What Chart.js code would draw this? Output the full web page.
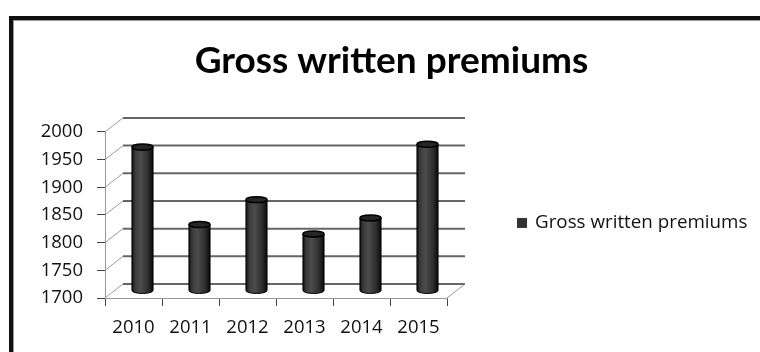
<!DOCTYPE html>
<html>
<head>
<meta charset="utf-8">
<script src="https://cdn.jsdelivr.net/npm/chart.js@4.4.1/dist/chart.umd.min.js"></script>
<style>
  html, body { margin: 0; padding: 0; background: #fff; overflow: hidden; }
  #frame { position: absolute; left: 9px; top: 16px; width: 800px; height: 400px;
           border-left: 4px solid #111; border-top: 4px solid #111; box-shadow: inset 1px 1px 0 #999; }
  #wrap { position: absolute; left: 0; top: 0; width: 760px; height: 352px; }
</style>
</head>
<body>
<div id="frame"></div>
<div id="wrap"><canvas id="premiumsChart" width="760" height="352"></canvas></div>
<script>
const years = ['2010', '2011', '2012', '2013', '2014', '2015'];
const premiums = [1960, 1820, 1865, 1803, 1832, 1965];
const yTickValues = [1700, 1750, 1800, 1850, 1900, 1950, 2000];

// depth of the fake 3d box (back wall offset)
const DX = 18;
const DY = -14;

const wall3d = {
    id: 'wall3d',
    beforeDatasetsDraw(chart) {
        const { ctx, scales: { x, y } } = chart;
        ctx.save();
        y.ticks.forEach(t => {
            const py = y.getPixelForValue(t.value);
            ctx.strokeStyle = '#9a9a9a';
            ctx.lineWidth = 1;
            ctx.beginPath();
            ctx.moveTo(x.left, py);
            ctx.lineTo(x.left + DX, py + DY);
            ctx.stroke();
            ctx.strokeStyle = '#666';
            ctx.lineWidth = 2;
            ctx.beginPath();
            ctx.moveTo(x.left + DX, py + DY);
            ctx.lineTo(x.right + DX, py + DY);
            ctx.stroke();
        });
        ctx.strokeStyle = '#9a9a9a';
        ctx.lineWidth = 1;
        ctx.beginPath();
        ctx.moveTo(x.right, y.bottom);
        ctx.lineTo(x.right + DX, y.bottom + DY);
        ctx.stroke();
        ctx.restore();
    },
    beforeDatasetDraw() {
        return false; // bars are drawn as cylinders below
    },
    afterDatasetsDraw(chart) {
        const ctx = chart.ctx;
        ctx.save();
        chart.getDatasetMeta(0).data.forEach(bar => {
            const p = bar.getProps(['x', 'y', 'base', 'width'], true);
            const cx = p.x + DX / 2;
            const top = p.y + DY / 2;
            const bottom = p.base + DY / 2;
            const rx = p.width / 2;
            const ry = p.width * 0.14;
            const left = cx - rx, right = cx + rx;

            const g = ctx.createLinearGradient(left, 0, right, 0);
            g.addColorStop(0, '#121212');
            g.addColorStop(0.15, '#3a3a3a');
            g.addColorStop(0.4, '#4c4c4c');
            g.addColorStop(0.75, '#303030');
            g.addColorStop(1, '#0a0a0a');

            ctx.beginPath();
            ctx.moveTo(left, top);
            ctx.lineTo(left, bottom);
            ctx.ellipse(cx, bottom, rx, ry, 0, Math.PI, 0, true);
            ctx.lineTo(right, top);
            ctx.ellipse(cx, top, rx, ry, 0, 0, Math.PI, false);
            ctx.closePath();
            ctx.fillStyle = g;
            ctx.fill();
            ctx.strokeStyle = '#000';
            ctx.lineWidth = 1;
            ctx.stroke();

            ctx.beginPath();
            ctx.ellipse(cx, top, rx, ry, 0, 0, Math.PI * 2);
            ctx.fillStyle = '#262626';
            ctx.fill();
            ctx.lineWidth = 1.5;
            ctx.stroke();
        });
        ctx.restore();
    }
};

// legend drawn by hand in the space kept free by the spacer axis
const sideLegend = {
    id: 'sideLegend',
    afterDraw(chart) {
        const { ctx, chartArea } = chart;
        const ds = chart.data.datasets[0];
        const cy = (chartArea.top + chartArea.bottom) / 2 + 8;
        const bx = chartArea.right + 70;
        ctx.save();
        ctx.fillStyle = ds.backgroundColor;
        ctx.fillRect(bx, cy - 5, 10, 10);
        ctx.font = "18.8px 'Open Sans'";
        ctx.fillStyle = '#111';
        ctx.textBaseline = 'middle';
        ctx.fillText(ds.label, bx + 18, cy);
        ctx.restore();
    }
};

document.addEventListener('DOMContentLoaded', () => {
    Chart.defaults.font.family = "'Open Sans', sans-serif";
    const ctx = document.getElementById('premiumsChart').getContext('2d');
    new Chart(ctx, {
        type: 'bar',
        data: {
            labels: years,
            datasets: [{
                label: 'Gross written premiums',
                data: premiums,
                base: yTickValues[0],
                backgroundColor: '#333',
                barPercentage: 0.37,
                categoryPercentage: 1
            }]
        },
        options: {
            responsive: false,
            animation: false,
            layout: { padding: { left: 30, right: 7, top: 20, bottom: 10 } },
            plugins: {
                title: {
                    display: true,
                    text: 'Gross written premiums',
                    color: '#000',
                    font: { family: 'Lato', size: 37, weight: 'bold', lineHeight: 1.2 },
                    padding: { top: 18.5, bottom: 49 }
                },
                legend: { display: false },
                tooltip: { enabled: false }
            },
            scales: {
                x: {
                    grid: { drawOnChartArea: false, offset: true, tickLength: 8, color: '#444' },
                    border: { color: '#999' },
                    ticks: { padding: 11, color: '#111', font: { size: 18.5 } },
                    afterFit: s => { s.height = 44; }
                },
                y: {
                    min: yTickValues[0],
                    max: yTickValues[yTickValues.length - 1],
                    grid: { drawOnChartArea: false, tickLength: 8, color: '#444' },
                    border: { color: '#999' },
                    ticks: { padding: 14, color: '#111', font: { size: 18.5 }, callback: v => String(v) },
                    afterBuildTicks: s => { s.ticks = yTickValues.map(v => ({ value: v })); },
                    afterFit: s => { s.width = 75; }
                },
                spacer: {
                    position: 'right',
                    grid: { display: false },
                    border: { display: false },
                    ticks: { display: false },
                    afterFit: s => { s.width = 306; }
                }
            }
        },
        plugins: [wall3d, sideLegend]
    });
});
</script>
</body>
</html>
